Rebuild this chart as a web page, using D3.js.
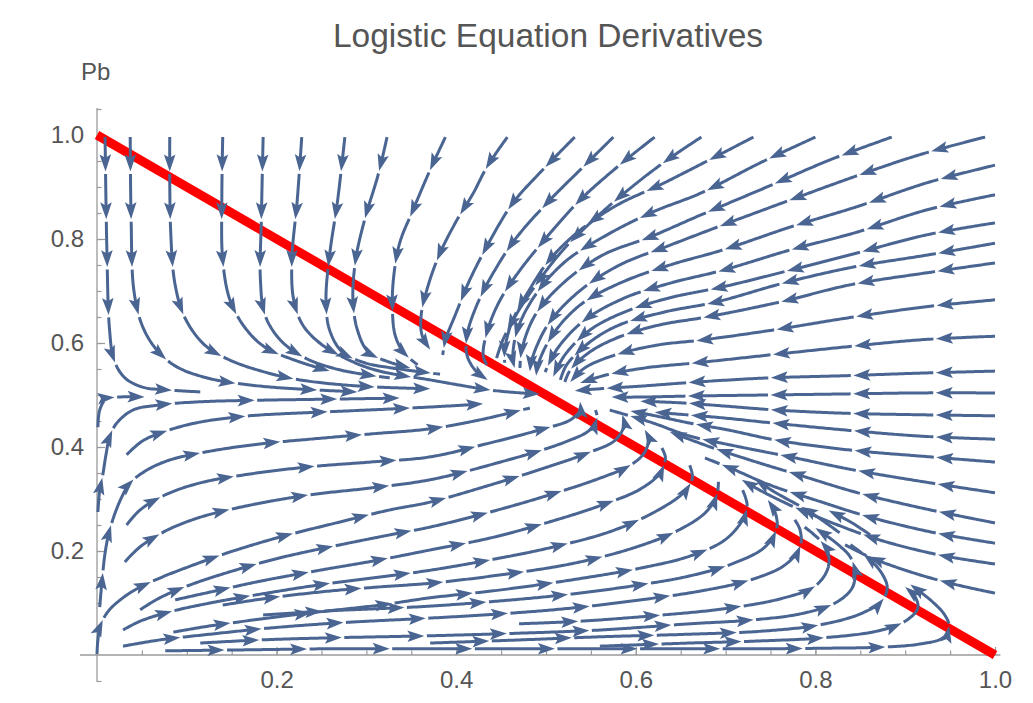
<!DOCTYPE html>
<html>
<head>
<meta charset="utf-8">
<script src="https://cdn.jsdelivr.net/npm/d3@7"></script>
<style>
  body { margin: 0; background: #fff; }
  text { font-family: "Liberation Sans", Arial, sans-serif; fill: #555; }
</style>
</head>
<body>
<div id="chart"></div>
<script>
// ---------- data ----------
var chartTitle = "Logistic Equation Derivatives";
var yLabel = "Pb";
var xTickValues = [0.2, 0.4, 0.6, 0.8, 1.0];
var yTickValues = [0.2, 0.4, 0.6, 0.8, 1.0];

// red line Pa + Pb = 1
var redLine = [[0, 1], [1, 0]];

// streamlines, [Pa, Pb] points in flow order
// coming down from the top on the left side
var topLeftLines = [
  [[0.009,0.996],[0.011,0.779],[0.014,0.625],[0.019,0.567],[0.031,0.533],[0.051,0.515],[0.076,0.510],[0.115,0.506]],
  [[0.037,0.996],[0.038,0.837],[0.041,0.702],[0.050,0.635],[0.065,0.590],[0.087,0.556],[0.122,0.533],[0.182,0.517],[0.290,0.506]],
  [[0.081,0.996],[0.082,0.817],[0.087,0.712],[0.098,0.648],[0.120,0.596],[0.148,0.567],[0.187,0.544],[0.226,0.529],[0.293,0.517],[0.371,0.512]],
  [[0.140,0.996],[0.139,0.875],[0.140,0.760],[0.148,0.683],[0.165,0.629],[0.187,0.592],[0.220,0.567],[0.259,0.546]],
  [[0.185,0.996],[0.183,0.837],[0.182,0.721],[0.187,0.654],[0.204,0.606],[0.232,0.571],[0.271,0.548],[0.326,0.533]],
  [[0.228,0.996],[0.223,0.875],[0.217,0.760],[0.219,0.683],[0.229,0.635],[0.248,0.600],[0.276,0.571],[0.310,0.548],[0.371,0.529],[0.445,0.508],[0.493,0.502]],
  [[0.276,0.996],[0.268,0.875],[0.259,0.769],[0.255,0.683],[0.259,0.625],[0.273,0.583],[0.298,0.562],[0.337,0.550],[0.382,0.540]],
  [[0.323,0.996],[0.313,0.923],[0.298,0.837],[0.288,0.760],[0.285,0.683],[0.290,0.625],[0.302,0.583],[0.326,0.563],[0.349,0.552]]
];

// coming down-left from the top edge towards the crossing point
var topRightLines = [
  [[0.388,0.996],[0.371,0.933],[0.352,0.856],[0.337,0.792],[0.330,0.721],[0.329,0.663],[0.332,0.615],[0.341,0.583],[0.357,0.558]],
  [[0.457,0.996],[0.434,0.938],[0.419,0.888],[0.401,0.837],[0.382,0.773],[0.369,0.712],[0.361,0.654],[0.362,0.615],[0.371,0.587]],
  [[0.532,0.996],[0.493,0.927],[0.463,0.869],[0.438,0.798],[0.415,0.721],[0.399,0.654],[0.388,0.606],[0.385,0.577]],
  [[0.575,0.996],[0.541,0.938],[0.501,0.869],[0.465,0.798],[0.440,0.731],[0.423,0.673],[0.412,0.615],[0.412,0.577],[0.421,0.548],[0.435,0.529]],
  [[0.621,0.996],[0.579,0.938],[0.538,0.875],[0.501,0.804],[0.471,0.740],[0.449,0.683],[0.435,0.625],[0.430,0.577],[0.434,0.558]],
  [[0.673,0.996],[0.635,0.952],[0.594,0.898],[0.555,0.840],[0.519,0.779],[0.490,0.715],[0.468,0.658],[0.452,0.606],[0.445,0.571]],
  [[0.731,0.996],[0.675,0.946],[0.627,0.904],[0.579,0.865],[0.538,0.817],[0.504,0.760],[0.480,0.698],[0.462,0.640],[0.454,0.587],[0.454,0.562]],
  [[0.800,0.996],[0.738,0.946],[0.672,0.888],[0.619,0.852],[0.568,0.808],[0.521,0.756],[0.488,0.692],[0.468,0.625],[0.463,0.571],[0.465,0.552]],
  [[0.885,0.996],[0.816,0.952],[0.746,0.900],[0.672,0.846],[0.616,0.804],[0.563,0.769],[0.519,0.715],[0.488,0.654],[0.473,0.587],[0.471,0.552]],
  [[0.989,0.996],[0.916,0.962],[0.842,0.919],[0.772,0.875],[0.697,0.827],[0.638,0.788],[0.582,0.750],[0.536,0.698],[0.502,0.635],[0.484,0.567],[0.482,0.544]]
];

// entering from the right edge
var rightLines = [
  [[1.000,0.942],[0.924,0.908],[0.846,0.862],[0.772,0.823],[0.697,0.779],[0.638,0.750],[0.582,0.715],[0.538,0.673],[0.507,0.615],[0.491,0.558],[0.489,0.537]],
  [[1.000,0.885],[0.924,0.856],[0.846,0.813],[0.772,0.779],[0.697,0.740],[0.638,0.715],[0.588,0.687],[0.543,0.644],[0.513,0.590],[0.499,0.544]],
  [[1.000,0.831],[0.924,0.808],[0.846,0.773],[0.772,0.740],[0.697,0.708],[0.638,0.687],[0.588,0.660],[0.549,0.625],[0.521,0.577],[0.508,0.535]],
  [[1.000,0.792],[0.924,0.769],[0.842,0.746],[0.764,0.715],[0.690,0.679],[0.633,0.660],[0.582,0.635],[0.549,0.602],[0.523,0.558],[0.516,0.529]],
  [[1.000,0.754],[0.924,0.735],[0.839,0.712],[0.761,0.679],[0.679,0.650],[0.627,0.635],[0.582,0.612],[0.549,0.583],[0.527,0.548],[0.521,0.525]],
  [[1.000,0.683],[0.920,0.669],[0.835,0.648],[0.753,0.625],[0.675,0.606],[0.624,0.596],[0.577,0.577],[0.543,0.552],[0.527,0.525]],
  [[1.000,0.613],[0.916,0.606],[0.831,0.592],[0.749,0.577],[0.668,0.562],[0.610,0.552],[0.566,0.538],[0.538,0.523]],
  [[1.000,0.546],[0.916,0.542],[0.831,0.537],[0.749,0.533],[0.668,0.525],[0.605,0.517],[0.560,0.512],[0.532,0.508]],
  [[1.000,0.504],[0.916,0.504],[0.831,0.502],[0.746,0.500],[0.660,0.498],[0.605,0.496],[0.573,0.496]],
  [[1.000,0.460],[0.916,0.462],[0.831,0.465],[0.757,0.471],[0.697,0.479],[0.649,0.485],[0.605,0.488]],
  [[1.000,0.415],[0.916,0.421],[0.831,0.433],[0.753,0.446],[0.697,0.456],[0.649,0.463],[0.621,0.467]],
  [[1.000,0.371],[0.928,0.381],[0.839,0.394],[0.757,0.413],[0.702,0.433],[0.660,0.446],[0.616,0.462],[0.594,0.469]],
  [[1.000,0.312],[0.928,0.331],[0.842,0.356],[0.772,0.381],[0.705,0.404],[0.660,0.421],[0.616,0.448],[0.571,0.471]],
  [[1.000,0.254],[0.928,0.279],[0.847,0.312],[0.782,0.346],[0.727,0.375],[0.683,0.400],[0.638,0.429]],
  [[1.000,0.215],[0.933,0.235],[0.861,0.265],[0.800,0.298],[0.749,0.327],[0.710,0.356],[0.677,0.379]],
  [[1.000,0.175],[0.939,0.192],[0.872,0.221],[0.816,0.256],[0.772,0.288],[0.738,0.317],[0.718,0.337]],
  [[1.000,0.119],[0.950,0.138],[0.900,0.163],[0.861,0.188],[0.833,0.212]]
];

// starting near the left edge, bending into Pb = 0.5
var leftLines = [
  [[0.001,0.438],[0.003,0.471],[0.010,0.492],[0.023,0.496],[0.053,0.496]],
  [[0.001,0.275],[0.003,0.317],[0.006,0.342],[0.010,0.385],[0.014,0.419],[0.022,0.446],[0.040,0.471],[0.070,0.481],[0.115,0.487],[0.182,0.490],[0.259,0.492],[0.337,0.494]],
  [[0.033,0.385],[0.051,0.412],[0.081,0.433],[0.115,0.448],[0.170,0.460],[0.248,0.467],[0.326,0.473],[0.393,0.479],[0.430,0.483]],
  [[0.003,0.092],[0.006,0.150],[0.009,0.196],[0.014,0.240],[0.026,0.298],[0.037,0.331],[0.056,0.356],[0.081,0.375],[0.126,0.392],[0.182,0.406],[0.237,0.415],[0.304,0.425],[0.371,0.435],[0.426,0.452],[0.482,0.475]]
];

// bottom lines running right and turning up at the red line
var bottomLines = [
  [[0.033,0.250],[0.048,0.279],[0.076,0.308],[0.115,0.331],[0.170,0.348],[0.237,0.362],[0.304,0.371],[0.371,0.381],[0.438,0.408],[0.493,0.433],[0.527,0.452],[0.538,0.471],[0.538,0.487]],
  [[0.031,0.179],[0.048,0.208],[0.078,0.240],[0.115,0.265],[0.170,0.288],[0.237,0.308],[0.304,0.321],[0.371,0.337],[0.445,0.369],[0.519,0.408],[0.549,0.433],[0.557,0.456],[0.555,0.471]],
  [[0.000,0.002],[0.001,0.029],[0.004,0.058],[0.012,0.083],[0.023,0.102],[0.042,0.125],[0.070,0.148],[0.104,0.171],[0.148,0.198],[0.204,0.227],[0.271,0.256],[0.326,0.279],[0.371,0.294],[0.438,0.327],[0.499,0.360],[0.549,0.390],[0.577,0.413],[0.587,0.442],[0.585,0.462]],
  [[0.048,0.087],[0.070,0.110],[0.104,0.135],[0.148,0.160],[0.204,0.187],[0.271,0.212],[0.326,0.231],[0.371,0.246],[0.438,0.275],[0.504,0.308],[0.560,0.340],[0.594,0.365],[0.610,0.390],[0.614,0.417],[0.610,0.433]],
  [[0.087,0.106],[0.126,0.121],[0.182,0.142],[0.248,0.163],[0.315,0.183],[0.371,0.202],[0.438,0.225],[0.504,0.256],[0.560,0.287],[0.605,0.319],[0.627,0.350],[0.633,0.379],[0.629,0.398]],
  [[0.029,0.048],[0.048,0.065],[0.081,0.083],[0.126,0.100],[0.182,0.117],[0.248,0.135],[0.315,0.150],[0.371,0.163],[0.438,0.183],[0.504,0.206],[0.571,0.237],[0.621,0.275],[0.653,0.312],[0.663,0.340],[0.660,0.365]],
  [[0.140,0.096],[0.193,0.110],[0.259,0.123],[0.315,0.131],[0.371,0.138],[0.449,0.154],[0.527,0.175],[0.594,0.204],[0.644,0.237],[0.677,0.273],[0.690,0.306],[0.692,0.333]],
  [[0.085,0.044],[0.126,0.056],[0.182,0.069],[0.248,0.083],[0.315,0.096],[0.371,0.110],[0.449,0.125],[0.527,0.144],[0.605,0.167],[0.660,0.190],[0.699,0.221],[0.719,0.260],[0.724,0.288],[0.719,0.317]],
  [[0.185,0.077],[0.259,0.085],[0.326,0.090],[0.371,0.094],[0.449,0.104],[0.527,0.117],[0.605,0.135],[0.660,0.152],[0.710,0.177],[0.744,0.208],[0.757,0.244],[0.755,0.275],[0.747,0.298]],
  [[0.029,0.017],[0.070,0.029],[0.126,0.040],[0.193,0.052],[0.271,0.062],[0.371,0.071],[0.449,0.079],[0.527,0.090],[0.605,0.106],[0.672,0.123],[0.727,0.144],[0.766,0.173],[0.783,0.208],[0.783,0.240],[0.777,0.260]],
  [[0.470,0.060],[0.538,0.065],[0.616,0.075],[0.694,0.088],[0.761,0.108],[0.800,0.133],[0.814,0.167],[0.814,0.198],[0.805,0.221],[0.788,0.246]],
  [[0.115,0.023],[0.182,0.029],[0.259,0.033],[0.371,0.037],[0.471,0.042],[0.560,0.048],[0.660,0.060],[0.727,0.067],[0.783,0.079],[0.822,0.100],[0.841,0.129],[0.844,0.160],[0.839,0.188],[0.822,0.217],[0.800,0.244]],
  [[0.371,0.023],[0.471,0.029],[0.560,0.035],[0.660,0.040],[0.742,0.046],[0.805,0.058],[0.850,0.079],[0.874,0.104],[0.880,0.129],[0.875,0.154],[0.861,0.183],[0.839,0.212]],
  [[0.560,0.017],[0.660,0.023],[0.738,0.027],[0.808,0.033],[0.869,0.046],[0.900,0.065],[0.914,0.090],[0.911,0.112],[0.900,0.131]],
  [[0.076,0.008],[0.170,0.010],[0.259,0.012],[0.371,0.012],[0.471,0.012],[0.560,0.012],[0.660,0.012],[0.742,0.012],[0.808,0.013],[0.872,0.015],[0.916,0.021],[0.942,0.033],[0.949,0.054],[0.944,0.077],[0.928,0.106],[0.902,0.140]]
];

// short pieces above the red line, lower right
var innerLines = [
  [[0.827,0.235],[0.794,0.275],[0.755,0.313],[0.733,0.337]],
  [[0.861,0.231],[0.839,0.256],[0.811,0.281]]
];

var streamlines = [].concat(topLeftLines, topRightLines, rightLines, leftLines, bottomLines, innerLines);

// ---------- chart ----------
var svgWidth = 1033;
var svgHeight = 703;
var streamColor = "#4a6592";

var svg = d3.select("#chart").append("svg")
  .attr("width", svgWidth)
  .attr("height", svgHeight);

var xScale = d3.scaleLinear().domain([0, 1]).range([97, 995]);
var yScale = d3.scaleLinear().domain([0, 1]).range([655, 135]);

// axis lines (Mathematica style, crossing at the origin)
var axisColor = "#9a9a9a";
svg.append("line")
  .attr("x1", xScale(-0.019)).attr("x2", xScale(1.006))
  .attr("y1", yScale(0)).attr("y2", yScale(0))
  .attr("stroke", axisColor).attr("stroke-width", 1.3);
svg.append("line")
  .attr("x1", xScale(0)).attr("x2", xScale(0))
  .attr("y1", yScale(-0.052)).attr("y2", yScale(1.052))
  .attr("stroke", axisColor).attr("stroke-width", 1.3);

// minor ticks every 0.05
var minorX = d3.range(1, 21).map(function(i) { return i * 0.05; });
var minorY = d3.range(-1, 22).filter(function(i) { return i !== 0; }).map(function(i) { return i * 0.05; });

var xMinor = svg.append("g")
  .attr("transform", "translate(0," + yScale(0) + ")")
  .call(d3.axisBottom(xScale).tickValues(minorX).tickSize(-4.5).tickFormat(""));
var yMinor = svg.append("g")
  .attr("transform", "translate(" + xScale(0) + ",0)")
  .call(d3.axisLeft(yScale).tickValues(minorY).tickSize(-4.5).tickFormat(""));

var xMajor = svg.append("g")
  .attr("transform", "translate(0," + yScale(0) + ")")
  .call(d3.axisBottom(xScale).tickValues(xTickValues).tickSize(-8).tickPadding(16).tickFormat(d3.format(".1f")));
var yMajor = svg.append("g")
  .attr("transform", "translate(" + xScale(0) + ",0)")
  .call(d3.axisLeft(yScale).tickValues(yTickValues).tickSize(-8).tickPadding(13).tickFormat(d3.format(".1f")));

[xMinor, yMinor, xMajor, yMajor].forEach(function(g) {
  g.select(".domain").remove();
  g.selectAll("line").attr("stroke", axisColor).attr("stroke-width", 1.2);
  g.selectAll("text").attr("font-size", 24).attr("fill", "#555")
    .attr("font-family", "'Liberation Sans', Arial, sans-serif");
});

// title and axis label
svg.append("text")
  .attr("x", 548).attr("y", 47)
  .attr("text-anchor", "middle")
  .attr("font-size", 33.5)
  .text(chartTitle);

svg.append("text")
  .attr("x", 81).attr("y", 80)
  .attr("font-size", 24)
  .text(yLabel);

// red line
var line = d3.line()
  .x(function(d) { return xScale(d[0]); })
  .y(function(d) { return yScale(d[1]); });

svg.append("path")
  .datum(redLine)
  .attr("d", line)
  .attr("fill", "none")
  .attr("stroke", "#ff0000")
  .attr("stroke-width", 9);

// streamlines, cut into arrow segments spaced evenly in data length
var curve = d3.line()
  .x(function(d) { return xScale(d[0]); })
  .y(function(d) { return yScale(d[1]); })
  .curve(d3.curveCatmullRom.alpha(0.5));

var arrowStep = 0.092;   // data length between heads
var firstHead = 0.066;
var headLen = 17;
var headHalf = 5.8;
var gap = 2.5;
var streamGroup = svg.append("g");

function drawStream(pts) {
  var tmp = streamGroup.append("path").attr("d", curve(pts)).attr("fill", "none");
  var node = tmp.node();
  var total = node.getTotalLength();

  // sample along the path, keep pixel and data lengths
  var samples = [];
  var dataLen = 0;
  var prev = null;
  for (var s = 0; s <= total; s += 1.5) {
    var p = node.getPointAtLength(s);
    if (prev) {
      var dx = (p.x - prev.x) / 898, dy = (p.y - prev.y) / 520;
      dataLen += Math.sqrt(dx * dx + dy * dy);
    }
    samples.push({ x: p.x, y: p.y, s: s, d: dataLen });
    prev = p;
  }
  var last = node.getPointAtLength(total);
  samples.push({ x: last.x, y: last.y, s: total, d: dataLen });

  function pxAt(d) {
    for (var i = 1; i < samples.length; i++) {
      if (samples[i].d >= d) {
        var a = samples[i - 1], b = samples[i];
        var t = (b.d - a.d) > 0 ? (d - a.d) / (b.d - a.d) : 0;
        return a.s + t * (b.s - a.s);
      }
    }
    return total;
  }

  var heads = [];
  for (var d = firstHead; d <= dataLen; d += arrowStep) heads.push(pxAt(d));
  var lastHead = heads.length ? heads[heads.length - 1] : 0;
  if (total - lastHead > 30) heads.push(total);

  function segment(s0, s1) {
    if (s1 - s0 < 2) return;
    var seg = [];
    for (var s = s0; s < s1; s += 2) {
      var q = node.getPointAtLength(s);
      seg.push([q.x, q.y]);
    }
    var q1 = node.getPointAtLength(s1);
    seg.push([q1.x, q1.y]);
    streamGroup.append("path")
      .attr("d", d3.line()(seg))
      .attr("fill", "none")
      .attr("stroke", streamColor)
      .attr("stroke-width", 3)
      .attr("stroke-linecap", "butt");
  }

  var start = 0;
  heads.forEach(function(h) {
    segment(start, h - headLen * 0.7);
    var tip = node.getPointAtLength(h);
    var back = node.getPointAtLength(Math.max(0, h - 5));
    var ang = Math.atan2(tip.y - back.y, tip.x - back.x) * 180 / Math.PI;
    streamGroup.append("path")
      .attr("d", "M0,0 L" + (-headLen) + "," + (-headHalf) + " L" + (-headLen * 0.8) + ",0 L" + (-headLen) + "," + headHalf + " Z")
      .attr("transform", "translate(" + tip.x + "," + tip.y + ") rotate(" + ang + ")")
      .attr("fill", streamColor);
    start = h + gap;
  });
  if (start < total) segment(start, total);
  tmp.remove();
}

streamlines.forEach(drawStream);
</script>
</body>
</html>
